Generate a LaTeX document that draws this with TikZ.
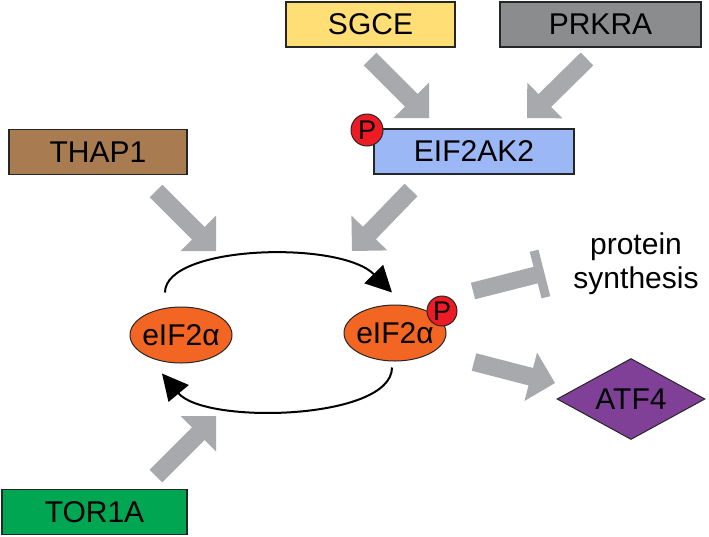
\documentclass[tikz,border=0pt]{standalone}
\usepackage{fontspec}
\setmainfont{Liberation Sans}
\usetikzlibrary{shapes.geometric,arrows.meta,calc}
\definecolor{sgcecol}{RGB}{255,222,117}
\definecolor{prkracol}{RGB}{138,140,142}
\definecolor{eifcol}{RGB}{155,183,245}
\definecolor{thapcol}{RGB}{168,124,80}
\definecolor{torcol}{RGB}{0,166,81}
\definecolor{eorange}{RGB}{242,101,34}
\definecolor{pred}{RGB}{237,28,36}
\definecolor{atfcol}{RGB}{128,64,152}
\definecolor{arrgray}{RGB}{167,169,172}
\newcommand\blockarrow[3]{%
  \coordinate (#1c) at ($(#3)!25pt!(#2)$);
  \fill[arrgray] ($(#2)!9pt!90:(#3)$) -- ($(#1c)!9pt!-90:(#2)$) -- ($(#1c)!25pt!-90:(#2)$) -- (#3)
    -- ($(#1c)!25pt!90:(#2)$) -- ($(#1c)!9pt!90:(#2)$) -- ($(#2)!9pt!-90:(#3)$) -- cycle;}
\begin{document}
\begin{tikzpicture}[x=1pt,y=-1pt,
  box/.style={draw=black!85, line width=1.2pt, minimum height=45pt, inner sep=0pt,
    font=\fontsize{30}{34}\selectfont},
  gene/.style={ellipse, fill=eorange, draw=black!85, line width=1pt, minimum width=102pt,
    minimum height=56pt, inner sep=0pt, font=\fontsize{30}{34}\selectfont},
  phos/.style={circle, fill=pred, draw=black!85, line width=1pt, minimum size=30pt,
    inner sep=0pt, font=\fontsize{27}{27}\selectfont},
  cyclearrow/.style={line width=2pt, -{Triangle[length=26pt,width=26pt]}},
]
\useasboundingbox[fill=white] (0,0) rectangle (709,536);

% boxes
\node[box, fill=sgcecol, minimum width=169pt] (sgce) at (370.5,24.5) {SGCE};
\node[box, fill=prkracol, minimum width=201pt] (prkra) at (600.5,24.5) {PRKRA};
\node[box, fill=eifcol, minimum width=200pt] (eif2ak2) at (474,151.5) {EIF2AK2};
\node[phos, minimum size=32pt] (p1) at (367,130) {P};
\node[box, fill=thapcol, minimum width=178pt] (thap1) at (98,152) {THAP1};
\node[box, fill=torcol, minimum width=185pt] (tor1a) at (94.5,512) {TOR1A};

% eIF2alpha
\node[gene] (eL) at (181,335) {\makebox[0pt]{eIF2α}};
\node[gene] (eR) at (395,333) {\makebox[0pt]{eIF2α}};
\node[phos] (p2) at (442,311) {P};

% ATF4
\node[diamond, fill=atfcol, draw=black!85, line width=1pt, minimum width=148pt,
  minimum height=81pt, inner sep=0pt, font=\fontsize{30}{34}\selectfont] (atf4) at (631,399) {\makebox[0pt]{ATF4}};

% protein synthesis
\node[align=center, font=\fontsize{30}{34}\selectfont, inner sep=0pt] (ps) at (636,264) {protein\\synthesis};

% block arrows
\coordinate (sgceS) at (370,59);   \coordinate (sgceT) at (429,118);
\coordinate (prkraS) at (587,59);  \coordinate (prkraT) at (527,118);
\coordinate (thapS) at (156,191);  \coordinate (thapT) at (216,251);
\coordinate (eifS) at (411,190);   \coordinate (eifT) at (352,251);
\coordinate (torS) at (156,476);   \coordinate (torT) at (216,416);
\coordinate (atfS) at (474,362);   \coordinate (atfT) at (555,383);
\blockarrow{sgcea}{sgceS}{sgceT}
\blockarrow{prkraa}{prkraS}{prkraT}
\blockarrow{thapa}{thapS}{thapT}
\blockarrow{eifa}{eifS}{eifT}
\blockarrow{tora}{torS}{torT}
\blockarrow{atfa}{atfS}{atfT}

% inhibition
\coordinate (inhS) at (473,291);
\coordinate (inhE) at (540,274);
\draw[arrgray, line width=17pt] (inhS) -- (inhE);
\draw[arrgray, line width=9pt] ($(inhE)!24pt!90:(inhS)$) -- ($(inhE)!24pt!-90:(inhS)$);

% cycle arrows
\draw[cyclearrow] ([xshift=-16pt,yshift=14pt]eL.north) .. controls (165,245) and (340,240) .. ([xshift=-3pt,yshift=12pt]eR.north);
\draw[cyclearrow] ([xshift=-3pt,yshift=-6pt]eR.south) .. controls (392,420) and (205,425) .. ([xshift=-19pt,yshift=-10pt]eL.south);
\end{tikzpicture}
\end{document}
